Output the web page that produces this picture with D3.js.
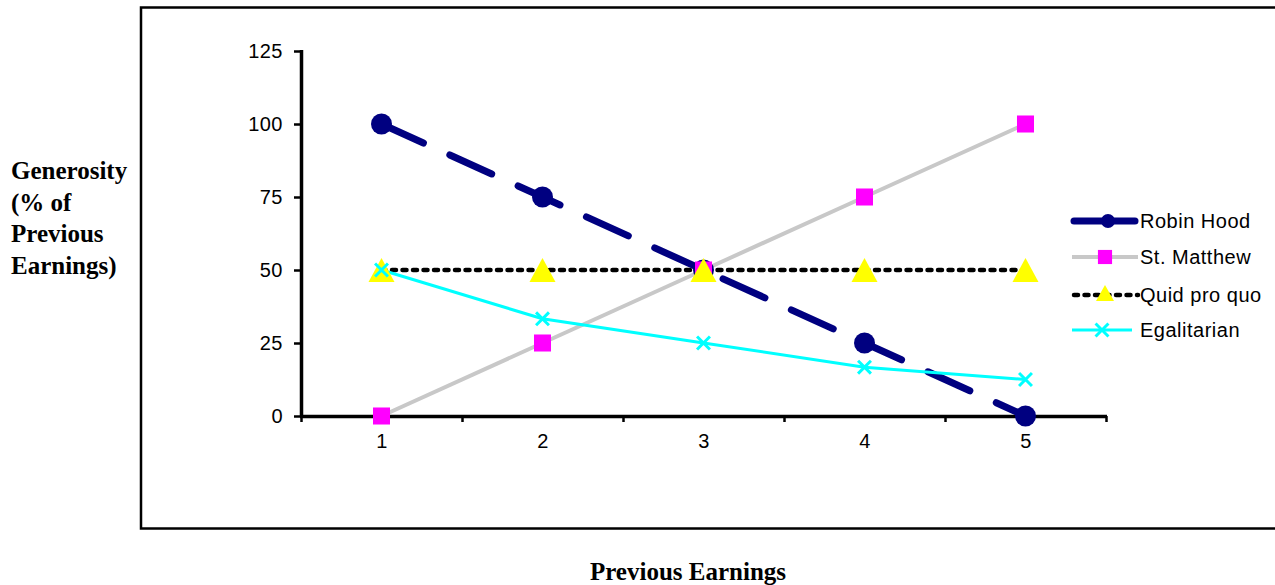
<!DOCTYPE html>
<html>
<head>
<meta charset="utf-8">
<script src="https://cdn.jsdelivr.net/npm/d3@7"></script>
<style>
  body { margin: 0; background: #fff; }
  svg { display: block; }
</style>
</head>
<body>
<div id="chart"></div>
<script>
// chart data
var earnings = [1, 2, 3, 4, 5];
var robinHood = [100, 75, 50, 25, 0];
var stMatthew = [0, 25, 50, 75, 100];
var quidProQuo = [50, 50, 50, 50, 50];
var egalitarian = [50, 33.3, 25, 16.7, 12.5];
var yTicks = [0, 25, 50, 75, 100, 125];
var seriesNames = ['Robin Hood', 'St. Matthew', 'Quid pro quo', 'Egalitarian'];

var svgWidth = 1275;
var svgHeight = 585;

var svg = d3.select('#chart')
    .append('svg')
    .attr('width', svgWidth)
    .attr('height', svgHeight);

// outer frame
svg.append('rect')
    .attr('x', 141)
    .attr('y', 7.5)
    .attr('width', 1150)
    .attr('height', 521)
    .attr('fill', 'none')
    .attr('stroke', '#000')
    .attr('stroke-width', 2.5);

// scales
var xScale = d3.scaleLinear()
    .domain([0.5, 5.5])
    .range([301, 1106]);
var yScale = d3.scaleLinear()
    .domain([0, 125])
    .range([416, 51]);

// y axis
var leftAxis = d3.axisLeft(yScale)
    .tickValues(yTicks)
    .tickSize(7)
    .tickPadding(11);
var gy = svg.append('g')
    .attr('transform', 'translate(301,0)')
    .call(leftAxis);
gy.select('.domain').attr('d', 'M0.5,50V417').attr('stroke-width', 3.5);

// x axis: ticks on category edges, labels in the middle
var edges = d3.range(0.5, 6, 1);
var bottomAxis = d3.axisBottom(xScale)
    .tickValues(edges)
    .tickSize(6)
    .tickFormat('');
var gx = svg.append('g')
    .attr('transform', 'translate(0,416)')
    .call(bottomAxis);
gx.select('.domain').attr('d', 'M300,0.5H1107').attr('stroke-width', 3.5);

var gxLabels = svg.append('g')
    .attr('transform', 'translate(0,416)')
    .call(d3.axisBottom(xScale).tickValues(earnings).tickSize(0).tickPadding(18).tickFormat(d3.format('d')));
gxLabels.select('.domain').remove();

svg.selectAll('.tick line').attr('stroke-width', 2.5);
svg.selectAll('.tick text')
    .attr('font-family', 'Liberation Sans, Arial, sans-serif')
    .attr('font-size', 20)
    .attr('letter-spacing', 0.5)
    .attr('fill', '#000');

var line = d3.line()
    .x(function(d, i) { return xScale(earnings[i]); })
    .y(function(d) { return yScale(d); });

// St. Matthew
svg.append('path')
    .attr('d', line(stMatthew))
    .attr('fill', 'none')
    .attr('stroke', '#c8c8c8')
    .attr('stroke-width', 4);

// Quid pro quo
svg.append('path')
    .attr('d', line(quidProQuo))
    .attr('fill', 'none')
    .attr('stroke', '#000')
    .attr('stroke-width', 4.5)
    .attr('stroke-linecap', 'round')
    .attr('stroke-dasharray', '4,6.5');

// Robin Hood
svg.append('path')
    .attr('d', line(robinHood))
    .attr('fill', 'none')
    .attr('stroke', '#000080')
    .attr('stroke-width', 7)
    .attr('stroke-linecap', 'round')
    .attr('stroke-dasharray', '46,29');

// Egalitarian
svg.append('path')
    .attr('d', line(egalitarian))
    .attr('fill', 'none')
    .attr('stroke', '#00ffff')
    .attr('stroke-width', 3);

// markers
var symSquare = d3.symbol().type(d3.symbolSquare).size(290);
var symCross = d3.symbol().type(d3.symbolX).size(110);
function triangle(w, h) {
    return 'M0,' + (-h / 2) + 'L' + (w / 2) + ',' + (h / 2) + 'L' + (-w / 2) + ',' + (h / 2) + 'Z';
}

function drawMarkers(values, draw) {
    var g = svg.append('g');
    values.forEach(function(v, i) {
        draw(g.append('g').attr('transform', 'translate(' + xScale(earnings[i]) + ',' + yScale(v) + ')'));
    });
}

drawMarkers(robinHood, function(g) {
    g.append('circle').attr('r', 10.5).attr('fill', '#000080');
});
drawMarkers(stMatthew, function(g) {
    g.append('path').attr('d', symSquare()).attr('fill', '#ff00ff');
});
drawMarkers(quidProQuo, function(g) {
    g.append('path').attr('d', triangle(26, 24)).attr('fill', '#ffff00');
});
drawMarkers(egalitarian, function(g) {
    g.append('path').attr('d', symCross()).attr('fill', 'none').attr('stroke', '#00ffff').attr('stroke-width', 3);
});

// legend
var legendY = [221, 257, 295, 330];
var legend = svg.append('g');
seriesNames.forEach(function(name, i) {
    var row = legend.append('g').attr('transform', 'translate(1072,' + legendY[i] + ')');
    if (i === 0) {
        row.append('line').attr('x1', 2).attr('x2', 63).attr('stroke', '#000080').attr('stroke-width', 7).attr('stroke-linecap', 'round');
        row.append('circle').attr('cx', 36).attr('r', 7).attr('fill', '#000080');
    } else if (i === 1) {
        row.append('line').attr('x1', 0).attr('x2', 66).attr('stroke', '#c8c8c8').attr('stroke-width', 4);
        row.append('path').attr('d', symSquare.size(200)()).attr('transform', 'translate(33,0)').attr('fill', '#ff00ff');
    } else if (i === 2) {
        row.append('line').attr('x1', 2).attr('x2', 66).attr('stroke', '#000').attr('stroke-width', 4.5)
            .attr('stroke-linecap', 'round').attr('stroke-dasharray', '4,6.5');
        row.append('path').attr('d', triangle(18, 16)).attr('transform', 'translate(33,-2)').attr('fill', '#ffff00');
    } else {
        row.append('line').attr('x1', 0).attr('x2', 60).attr('stroke', '#00ffff').attr('stroke-width', 3);
        row.append('path').attr('d', symCross()).attr('transform', 'translate(30,0)').attr('fill', 'none')
            .attr('stroke', '#00ffff').attr('stroke-width', 3);
    }
    row.append('text')
        .attr('x', 68)
        .attr('dy', '0.35em')
        .attr('font-family', 'Liberation Sans, Arial, sans-serif')
        .attr('font-size', 20)
        .attr('letter-spacing', 0.5)
        .text(name);
});

// axis titles
var yTitle = ['Generosity', '(% of', 'Previous', 'Earnings)'];
svg.append('g').selectAll('text')
    .data(yTitle)
    .enter()
    .append('text')
    .attr('x', 11)
    .attr('y', function(d, i) { return 179 + i * 31.5; })
    .attr('font-family', 'Liberation Serif, Times New Roman, serif')
    .attr('font-weight', 'bold')
    .attr('font-size', 25)
    .text(function(d) { return d; });

svg.append('text')
    .attr('x', 688)
    .attr('y', 580)
    .attr('text-anchor', 'middle')
    .attr('font-family', 'Liberation Serif, Times New Roman, serif')
    .attr('font-weight', 'bold')
    .attr('font-size', 25)
    .text('Previous Earnings');
</script>
</body>
</html>
